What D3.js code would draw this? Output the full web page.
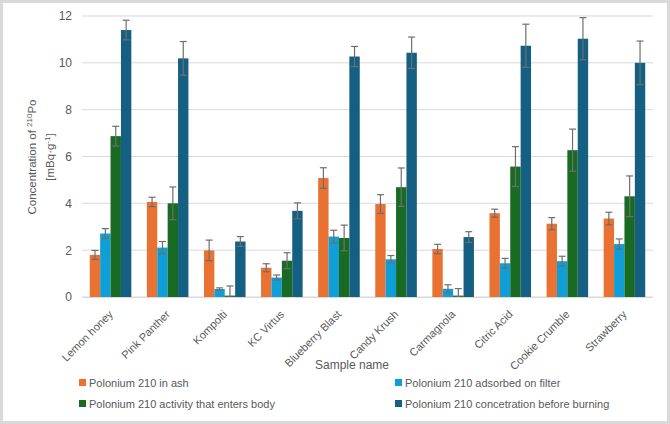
<!DOCTYPE html>
<html><head><meta charset="utf-8">
<script src="https://cdn.jsdelivr.net/npm/d3@7"></script>
<style>body{margin:0;background:#fff}svg{display:block;font-family:"Liberation Sans",Arial,sans-serif}</style>
</head><body><svg id="c" width="670" height="424"></svg>
<script>
const categories = ["Lemon honey","Pink Panther","Kompolti","KC Virtus","Blueberry Blast","Candy Krush","Carmagnola","Citric Acid","Cookie Crumble","Strawberry"];
const seriesNames = ["Polonium 210 in ash","Polonium 210 adsorbed on filter","Polonium 210 activity that enters body","Polonium 210 concetration before burning"];
const seriesColors = ["#E97132","#0F9ED5","#196B24","#156082"];
const ash      = [1.80, 4.06, 1.99, 1.25, 5.08, 3.97, 2.05, 3.58, 3.13, 3.35];
const ashErr   = [0.19, 0.20, 0.44, 0.17, 0.44, 0.40, 0.20, 0.17, 0.26, 0.27];
const filter   = [2.71, 2.11, 0.34, 0.83, 2.58, 1.61, 0.35, 1.44, 1.53, 2.26];
const filterErr= [0.21, 0.26, 0.05, 0.11, 0.27, 0.16, 0.17, 0.21, 0.21, 0.22];
const body     = [6.87, 4.00, 0.06, 1.55, 2.52, 4.69, 0.06, 5.57, 6.27, 4.30];
const bodyErr  = [0.42, 0.70, 0.41, 0.34, 0.55, 0.82, 0.30, 0.85, 0.90, 0.87];
const before   = [11.40, 10.19, 2.37, 3.68, 10.27, 10.43, 2.56, 10.73, 11.03, 10.00];
const beforeErr= [0.42, 0.72, 0.21, 0.34, 0.43, 0.67, 0.23, 0.92, 0.90, 0.93];
const yTicks = [0,2,4,6,8,10,12];

const series = [[ash,ashErr],[filter,filterErr],[body,bodyErr],[before,beforeErr]];
const svg = d3.select("#c");
svg.append("rect").attr("x",1.5).attr("y",1.5).attr("width",667).attr("height",421)
  .attr("fill","#fff").attr("stroke","#d9d9d9").attr("stroke-width",3);

const L=82, R=653, T=16, B=297;
const x0 = d3.scaleBand().domain(categories).range([L,R]).paddingInner(0.272).paddingOuter(0.136);
const x1 = d3.scaleBand().domain(d3.range(4)).range([0,x0.bandwidth()]);
const y = d3.scaleLinear().domain([0,12]).range([B,T]);
const grey="#595959";

// grid
svg.append("g").selectAll("line").data(yTicks).join("line")
  .attr("x1",L).attr("x2",R).attr("y1",d=>y(d)).attr("y2",d=>y(d))
  .attr("stroke","#d9d9d9").attr("stroke-width",1);

// y axis labels
const ya = svg.append("g").attr("transform",`translate(${L},0)`)
  .call(d3.axisLeft(y).tickValues(yTicks).tickSize(0).tickPadding(10));
ya.select(".domain").remove();
ya.selectAll("text").attr("fill",grey).style("font-size","12px").style("font-family","Liberation Sans, Arial, sans-serif");

// bars
const groups = svg.append("g").selectAll("g").data(categories).join("g")
  .attr("transform",d=>`translate(${x0(d)},0)`);
groups.each(function(c,i){
  const g=d3.select(this);
  series.forEach((s,k)=>{
    const v=s[0][i], e=s[1][i];
    g.append("rect").attr("x",x1(k)).attr("width",x1.bandwidth()).attr("y",y(v)).attr("height",y(0)-y(v))
      .attr("fill",seriesColors[k]);
    const cx=x1(k)+x1.bandwidth()/2;
    const lo=Math.max(v-e,0), hi=v+e;
    g.append("line").attr("x1",cx).attr("x2",cx).attr("y1",y(lo)).attr("y2",y(hi)).attr("stroke","#6e6e6e").attr("stroke-width",1.2);
    [lo,hi].forEach(t=>g.append("line").attr("x1",cx-3.5).attr("x2",cx+3.5).attr("y1",y(t)).attr("y2",y(t)).attr("stroke","#6e6e6e").attr("stroke-width",1.2));
  });
});

// x axis line
svg.append("line").attr("x1",L).attr("x2",R).attr("y1",B+0.5).attr("y2",B+0.5).attr("stroke","#d9d9d9");

// x labels
const xa = svg.append("g").attr("transform",`translate(0,${B})`)
  .call(d3.axisBottom(x0).tickSize(0).tickPadding(0));
xa.select(".domain").remove();
xa.selectAll("text").attr("fill",grey).style("font-size","11px").style("font-family","Liberation Sans, Arial, sans-serif")
  .attr("text-anchor","end").attr("dy",0).attr("y",0)
  .attr("transform","translate(3,18) rotate(-45)");

// axis titles
svg.append("text").attr("x",352).attr("y",369).attr("text-anchor","middle").attr("fill",grey)
  .style("font-size","12px").text("Sample name");
const yt = svg.append("text").attr("transform","translate(36,157) rotate(-90)").attr("text-anchor","middle").attr("fill",grey).style("font-size","11.5px");
yt.append("tspan").text("Concentration of ");
yt.append("tspan").attr("dy",-4).style("font-size","8px").text("210");
yt.append("tspan").attr("dy",4).text("Po");
const yt2 = svg.append("text").attr("transform","translate(54,157) rotate(-90)").attr("text-anchor","middle").attr("fill",grey).style("font-size","11.5px");
yt2.append("tspan").text("[mBq·g");
yt2.append("tspan").attr("dy",-4).style("font-size","8px").text("-1");
yt2.append("tspan").attr("dy",4).text("]");

// legend
const legPos = [[79,383],[395,383],[79,404],[395,404]];
seriesNames.forEach((n,k)=>{
  const [lx,ly]=legPos[k];
  svg.append("rect").attr("x",lx).attr("y",ly-4).attr("width",7).attr("height",7).attr("fill",seriesColors[k]);
  svg.append("text").attr("x",lx+10).attr("y",ly+4).attr("fill",grey).style("font-size","11px").text(n);
});
</script></body></html>
